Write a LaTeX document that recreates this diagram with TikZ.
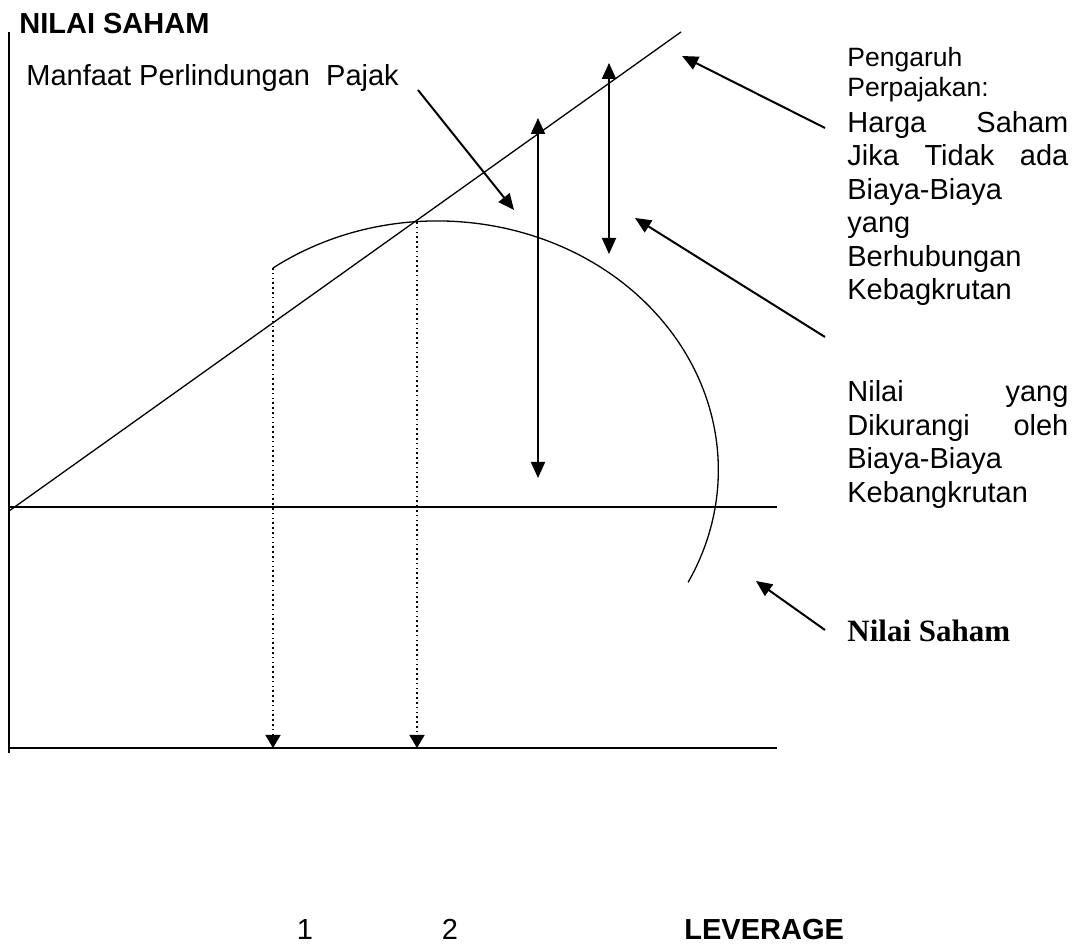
\documentclass[tikz,border=0pt]{standalone}
\usepackage{fontspec}
\setmainfont{Liberation Sans}
\newfontfamily\serifface{Liberation Serif}
\usepackage{tikz}
\usetikzlibrary{arrows.meta}
\newcommand{\lblfont}{\fontsize{14.5}{16.75}\selectfont}
\newcommand{\smallfont}{\fontsize{13.25}{15}\selectfont}
\newcommand{\jline}[2]{\hbox to\linewidth{#1\hfill#2}}
\newcommand{\oline}[1]{\hbox{#1}}
\tikzset{
  >={Triangle[length=8pt,width=7pt]},
  every node/.style={inner sep=0pt,text=black},
  axisline/.style={draw=black,line width=0.7pt},
  curve/.style={draw=black,line width=0.65pt},
  arrow/.style={->,draw=black,line width=1pt},
  twoway/.style={<->,draw=black,line width=1pt},
  dotarr/.style={-{Triangle[length=6.5pt,width=7.5pt]},draw=black,line width=0.8pt,dash pattern=on 0.8pt off 1.6pt},
  lbl/.style={font=\lblfont},
  boldlbl/.style={font=\lblfont\bfseries},
  seriflbl/.style={font=\fontsize{15.5}{18}\selectfont\serifface\bfseries},
  textblock/.style={anchor=base west}
}
\begin{document}
\begin{tikzpicture}[x=0.5pt,y=-0.5pt]
  \useasboundingbox (0,0) rectangle (1078,946);

  \coordinate (ytop) at (9,32);
  \coordinate (ybot) at (9,753);
  \coordinate (origin) at (9,507);
  \coordinate (midend) at (777,507);
  \coordinate (xleft) at (9,748);
  \coordinate (xright) at (777,748);
  \draw[axisline] (ytop) -- (ybot);
  \draw[axisline] (origin) -- (midend);
  \draw[axisline] (xleft) -- (xright);

  \draw[curve] (9,511) -- (681,32);
  \draw[curve] (273,268) arc[start angle=125.8,end angle=-26.8,x radius=140.5pt,y radius=124.5pt];

  \coordinate (opt1) at (273,268);
  \coordinate (lev1) at (273,748);
  \coordinate (opt2) at (417,222);
  \coordinate (lev2) at (417,748);
  \draw[dotarr] (opt1) -- (lev1);
  \draw[dotarr] (opt2) -- (lev2);

  \coordinate (costtop) at (609,63);
  \coordinate (costbot) at (609,254);
  \coordinate (gaintop) at (538,118);
  \coordinate (gainbot) at (538,478);
  \draw[twoway] (costbot) -- (costtop);
  \draw[twoway] (gainbot) -- (gaintop);

  \node[boldlbl,anchor=base west] (ylabel) at (19,34) {NILAI SAHAM};
  \node[lbl,anchor=base west] (manfaat) at (26,86) {Manfaat Perlindungan\ \ Pajak};
  \coordinate (manfaatfrom) at (418,90);
  \coordinate (manfaatto) at (514,210);
  \draw[arrow] (manfaatfrom) -- (manfaatto);

  \node[textblock] (pajak) at (847,67) {\parbox[t]{110.5pt}{\smallfont Pengaruh\\Perpajakan:\par
    \lblfont\vspace{1pt}\jline{Harga}{Saham}\jline{Jika\hfill Tidak}{ada}\oline{Biaya-Biaya}\oline{yang}\oline{Berhubungan}\oline{Kebagkrutan}}};
  \node[textblock] (kurang) at (847,402) {\parbox[t]{110.5pt}{\lblfont
    \jline{Nilai}{yang}\jline{Dikurangi}{oleh}\oline{Biaya-Biaya}\oline{Kebangkrutan}}};
  \node[seriflbl,anchor=base west] (nilai) at (847,642) {Nilai Saham};

  \coordinate (pajakfrom) at (825,128);
  \coordinate (pajakto) at (682,56);
  \coordinate (kurangfrom) at (825,337);
  \coordinate (kurangto) at (635,218);
  \coordinate (nilaifrom) at (825,630);
  \coordinate (nilaito) at (756,581);
  \draw[arrow] (pajakfrom) -- (pajakto);
  \draw[arrow] (kurangfrom) -- (kurangto);
  \draw[arrow] (nilaifrom) -- (nilaito);

  \node[lbl,anchor=base] (one) at (305,940) {1};
  \node[lbl,anchor=base] (two) at (450,940) {2};
  \node[boldlbl,anchor=base west] (leverage) at (684,940) {LEVERAGE};
\end{tikzpicture}
\end{document}
